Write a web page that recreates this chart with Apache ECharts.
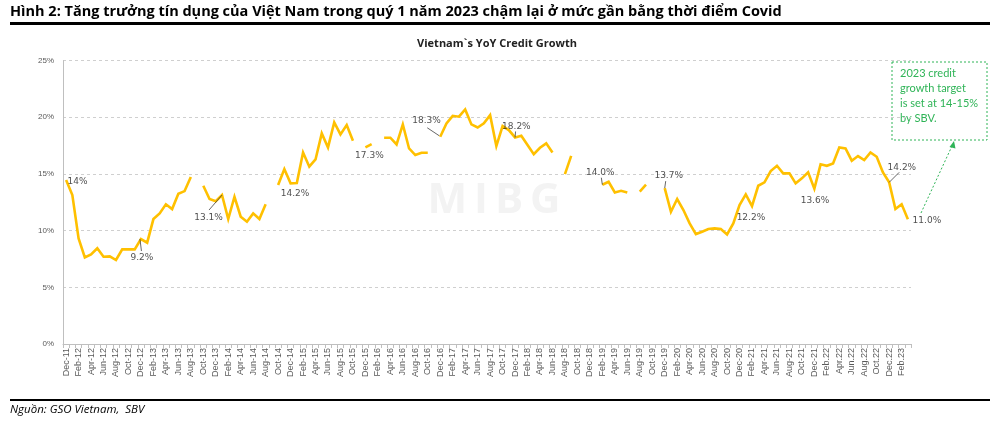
<!DOCTYPE html>
<html>
<head>
<meta charset="utf-8">
<script src="https://cdn.jsdelivr.net/npm/echarts@6/dist/echarts.min.js"></script>
<style>
html,body{margin:0;padding:0;background:#fff;}
#chart{width:1000px;height:424px;}
</style>
</head>
<body>
<div id="chart"></div>
<script>
// ---------- DATA ----------
const monthNames = ['Jan','Feb','Mar','Apr','May','Jun','Jul','Aug','Sep','Oct','Nov','Dec'];
const startYear = 2011, startMonth = 11; // Dec-11 (0-based month)
const monthCount = 136;                  // Dec-11 .. Mar-23
const categories = [];
for (let k = 0; k < monthCount; k++) {
  const m = (startMonth + k) % 12;
  const y = startYear + Math.floor((startMonth + k) / 12);
  const sep = y >= 2022 ? '.' : '-';
  categories.push(monthNames[m] + sep + String(y).slice(2));
}

const creditGrowth = [
  14.47, 13.14, 9.32, 7.64, 7.91, 8.44, 7.70, 7.73, 7.41, 8.35,
  8.35, 8.35, 9.26, 8.94, 11.02, 11.52, 12.32, 11.90, 13.26, 13.49,
  14.73, null, 13.96, 12.79, 12.60, 13.14, 11.02, 12.99, 11.23, 10.79,
  11.52, 11.02, 12.32, null, 14.02, 15.43, 14.17, 14.20, 16.90, 15.64,
  16.28, 18.58, 17.34, 19.55, 18.49, 19.31, 17.93, null, 17.34, 17.64,
  null, 18.20, 18.20, 17.60, 19.37, 17.25, 16.67, 16.87, 16.87, null,
  18.28, 19.46, 20.13, 20.05, 20.69, 19.37, 19.10, 19.46, 20.19, 17.46,
  19.22, 18.87, 18.22, 18.37, 17.55, 16.75, 17.31, 17.70, 16.90, null,
  14.99, 16.60, null, null, null, null, 14.05, 14.31, 13.37, 13.52,
  13.37, null, 13.45, 14.05, null, null, 13.75, 11.67, 12.79, 11.82,
  10.64, 9.70, 9.90, 10.14, 10.20, 10.14, 9.67, 10.64, 12.26, 13.20,
  12.17, 13.96, 14.26, 15.26, 15.72, 15.05, 15.05, 14.17, 14.61, 15.14,
  13.70, 15.85, 15.72, 15.93, 17.34, 17.25, 16.17, 16.58, 16.23, 16.90,
  16.52, 15.14, 14.26, 11.90, 12.32, 11.00
];

const yTicks = [0, 5, 10, 15, 20, 25];

// labelled points: index into series, text shown
const labelIndex = [0, 12, 25, 36, 48, 60, 72, 86, 96, 108, 120, 132, 135];
const labelText  = ['14%', '9.2%', '13.1%', '14.2%', '17.3%', '18.3%', '18.2%', '14.0%', '13.7%', '12.2%', '13.6%', '14.2%', '11.0%'];

// ---------- STYLE (label offsets / leader lines, pixels) ----------
const labelOffset = {
  0: [11.5, 2], 12: [1, 18.5], 25: [-13.5, 23], 36: [4.5, 10], 48: [4, 8],
  60: [-13.7, -16], 72: [1.3, -11.3], 86: [-2, -12.3], 96: [4, -12],
  108: [11.4, 12.3], 120: [0.6, 12.4], 132: [12.7, -15], 135: [19, 1]
};
const leaderLines = {
  12: [-1, 0, 0.5, 12], 25: [-13, 15, 0, 0], 60: [-13, -9, -1, -1],
  72: [0.5, -6, 0, 0], 86: [-1, -7, 0, 0], 96: [1, -7, 0, 0], 132: [0, 0, 10, -10]
};

const GOLD = '#FFC000';
const GREEN = '#2fb457';

const labelData = labelIndex.map((idx, n) => ({
  value: [idx, creditGrowth[idx]],
  label: { formatter: labelText[n], offset: labelOffset[idx] }
}));

const chart = echarts.init(document.getElementById('chart'), null, { renderer: 'canvas' });

const option = {
  animation: false,
  backgroundColor: '#ffffff',
  grid: { left: 63, right: 89, top: 60.6, bottom: 80, containLabel: false },
  xAxis: {
    type: 'category',
    data: categories,
    boundaryGap: true,
    axisLine: { show: true, lineStyle: { color: '#bfbfbf', width: 1 } },
    axisTick: { show: true, interval: 0, length: 4, lineStyle: { color: '#bfbfbf' } },
    axisLabel: {
      interval: 1, rotate: 90, margin: 4,
      fontFamily: 'Liberation Sans', fontSize: 9, color: '#595959'
    },
    splitLine: { show: false }
  },
  yAxis: {
    type: 'value',
    min: yTicks[0], max: yTicks[yTicks.length - 1], interval: 5,
    axisLine: { show: true, lineStyle: { color: '#bfbfbf', width: 1 } },
    axisTick: { show: false },
    axisLabel: { formatter: '{value}%', fontFamily: 'Liberation Sans', fontSize: 8, color: '#595959', margin: 9 },
    splitLine: { show: true, lineStyle: { color: '#cfcfcf', type: [3, 3], width: 1 } }
  },
  series: [
    {
      name: 'YoY Credit Growth',
      type: 'line',
      data: creditGrowth,
      connectNulls: false,
      showSymbol: false,
      symbol: 'none',
      lineStyle: { color: GOLD, width: 2.6, join: 'miter' },
      z: 3
    },
    {
      name: 'labels',
      type: 'scatter',
      data: labelData,
      symbolSize: 1,
      itemStyle: { color: 'rgba(0,0,0,0)' },
      label: {
        show: true, position: 'inside',
        fontFamily: 'DejaVu Sans', fontSize: 9, color: '#1e1e1e'
      },
      emphasis: { disabled: true },
      z: 4
    }
  ],
  graphic: [
    { type: 'text', left: 10, top: 4, style: { text: 'Hình 2: Tăng trưởng tín dụng của Việt Nam trong quý 1 năm 2023 chậm lại ở mức gần bằng thời điểm Covid', font: 'bold 14.5px "Open Sans"', fill: '#000' } },
    { type: 'rect', shape: { x: 10, y: 22, width: 980, height: 3 }, style: { fill: '#000' } },
    { type: 'text', x: 497, y: 44, style: { text: 'Vietnam`s YoY Credit Growth', font: 'bold 11px "Open Sans"', fill: '#222', align: 'center', verticalAlign: 'middle' } },
    { type: 'text', x: 494, y: 201, z: 0, style: { text: 'M\u2009I\u2009B\u2009G', font: 'bold 42px "Open Sans"', fill: '#f3f3f3', align: 'center', verticalAlign: 'middle' } },
    { type: 'rect', shape: { x: 892, y: 62, width: 95, height: 78 }, style: { fill: '#fff', stroke: GREEN, lineWidth: 1, lineDash: [2, 2] } },
    { type: 'text', x: 900, y: 66, style: { text: '2023 credit\ngrowth target\nis set at 14-15%\nby SBV.', font: '11px Lato', fill: GREEN, lineHeight: 15 } },
    { type: 'line', shape: { x1: 921, y1: 213, x2: 952, y2: 146 }, style: { stroke: GREEN, lineWidth: 1, lineDash: [2, 2] } },
    { type: 'polygon', shape: { points: [[954, 141], [949.5, 147], [955.5, 148.5]] }, style: { fill: GREEN } },
    { type: 'rect', shape: { x: 10, y: 399, width: 980, height: 2 }, style: { fill: '#000' } },
    { type: 'text', left: 10, top: 404, style: { text: 'Nguồn: GSO Vietnam,  SBV', font: 'italic 11.5px "Open Sans"', fill: '#000' } }
  ]
};

chart.setOption(option);

// leader lines anchored to data points through the chart's scales
const leaders = [];
Object.keys(leaderLines).forEach(k => {
  const idx = +k;
  const p = chart.convertToPixel({ xAxisIndex: 0, yAxisIndex: 0 }, [idx, creditGrowth[idx]]);
  const d = leaderLines[k];
  leaders.push({
    type: 'line', id: 'leader' + idx, z: 5,
    shape: { x1: p[0] + d[0], y1: p[1] + d[1], x2: p[0] + d[2], y2: p[1] + d[3] },
    style: { stroke: '#404040', lineWidth: 0.8 }
  });
});
chart.setOption({ graphic: option.graphic.concat(leaders) });
</script>
</body>
</html>
